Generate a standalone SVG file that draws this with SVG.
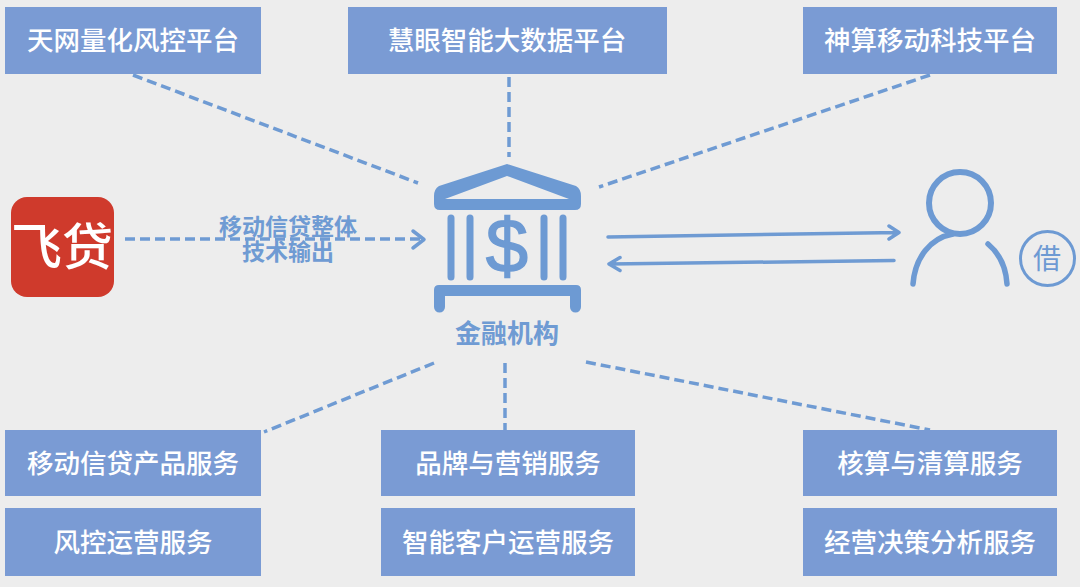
<svg xmlns="http://www.w3.org/2000/svg" width="1080" height="587" viewBox="0 0 1080 587">
<style>
text{font-family:"Noto Sans CJK SC","Liberation Sans",sans-serif;text-anchor:middle}
.box{fill:#7a9bd4}
.lb{fill:#fff;font-size:26.500px;font-weight:500}
.dash{fill:none;stroke:#6f9bd3;stroke-width:3.500;stroke-dasharray:10 5}
.sol{fill:none;stroke:#6f9bd3;stroke-width:3.500;stroke-linecap:round;stroke-linejoin:round}
.ic{fill:none;stroke:#6d9ad3;stroke-linecap:round;stroke-linejoin:round}
.blue{fill:#6f9bd3;font-weight:700}
</style>
<rect width="1080" height="587" fill="#ededed"/>
<g id="connectors">
<path class="dash" d="M133 75L418 183"/>
<path class="dash" d="M509 62V157"/>
<path class="dash" d="M930 75L599 187"/>
<path class="dash" d="M125 239H420"/>
<path class="sol" d="M413 231L424 239.500L413 248"/>
<path class="dash" d="M434 363L264 432"/>
<path class="dash" d="M505 363V430"/>
<path class="dash" d="M586 362L930 430"/>
<path class="sol" d="M608 237L898 232.500M889 226L899 232.500L889 239"/>
<path class="sol" d="M894 260.500L610 264M620 257.500L609 264L620 270.500"/>
</g>
<g id="n1"><rect class="box" x="5" y="7" width="256" height="67"/><text class="lb" x="133" y="50">天网量化风控平台</text></g>
<g id="n2"><rect class="box" x="348" y="7" width="319" height="67"/><text class="lb" x="507" y="50">慧眼智能大数据平台</text></g>
<g id="n3"><rect class="box" x="803" y="7" width="254" height="67"/><text class="lb" x="930" y="50">神算移动科技平台</text></g>
<g id="logo"><rect x="11" y="197" width="103" height="100" rx="16" fill="#cf3a2c"/><text x="62" y="265" font-size="50" font-weight="500" fill="#fff" textLength="102" lengthAdjust="spacingAndGlyphs">飞贷</text></g>
<g id="label"><text class="blue" x="288" y="235" font-size="23">移动信贷整体</text><text class="blue" x="288" y="260" font-size="23">技术输出</text></g>
<g id="bank">
<path d="M507 164L576 186Q581 189 581 196V204Q581 210 575 210H440Q434 210 434 204V196Q434 189 439 186ZM507 176L445 199H569Z" fill="#6d9ad3" fill-rule="evenodd"/>
<path class="ic" stroke-width="7" d="M451 218V277M470 218V277M544 218V277M563 218V277"/>
<path d="M434 290Q434 285 439 285H576Q581 285 581 290V307A5 5 0 0 1 570 307V296H445V307A5 5 0 0 1 434 307Z" fill="#6d9ad3"/>
<text x="507" y="272" font-size="76" stroke="#6d9ad3" stroke-width="1.500" fill="#6d9ad3" style="font-family:'Liberation Sans',sans-serif">$</text>
<text class="blue" x="507" y="343" font-size="26">金融机构</text>
</g>
<g id="person">
<circle class="ic" stroke-width="6" cx="960" cy="203" r="31"/>
<path class="ic" stroke-width="5.500" d="M913 284C915 258 930 238 953 234M988 244C1000 254 1006 268 1007 284"/>
<circle class="ic" stroke-width="3" cx="1047.500" cy="258.500" r="27"/>
<text x="1047" y="269" font-size="28" fill="#6d9ad3">借</text>
</g>
<g id="n4"><rect class="box" x="5" y="430" width="256" height="66"/><text class="lb" x="133" y="473">移动信贷产品服务</text></g>
<g id="n5"><rect class="box" x="5" y="508" width="256" height="68"/><text class="lb" x="133" y="552">风控运营服务</text></g>
<g id="n6"><rect class="box" x="381" y="430" width="254" height="66"/><text class="lb" x="508" y="473">品牌与营销服务</text></g>
<g id="n7"><rect class="box" x="381" y="508" width="254" height="68"/><text class="lb" x="508" y="552">智能客户运营服务</text></g>
<g id="n8"><rect class="box" x="803" y="430" width="254" height="66"/><text class="lb" x="930" y="473">核算与清算服务</text></g>
<g id="n9"><rect class="box" x="803" y="508" width="254" height="68"/><text class="lb" x="930" y="552">经营决策分析服务</text></g>
</svg>
